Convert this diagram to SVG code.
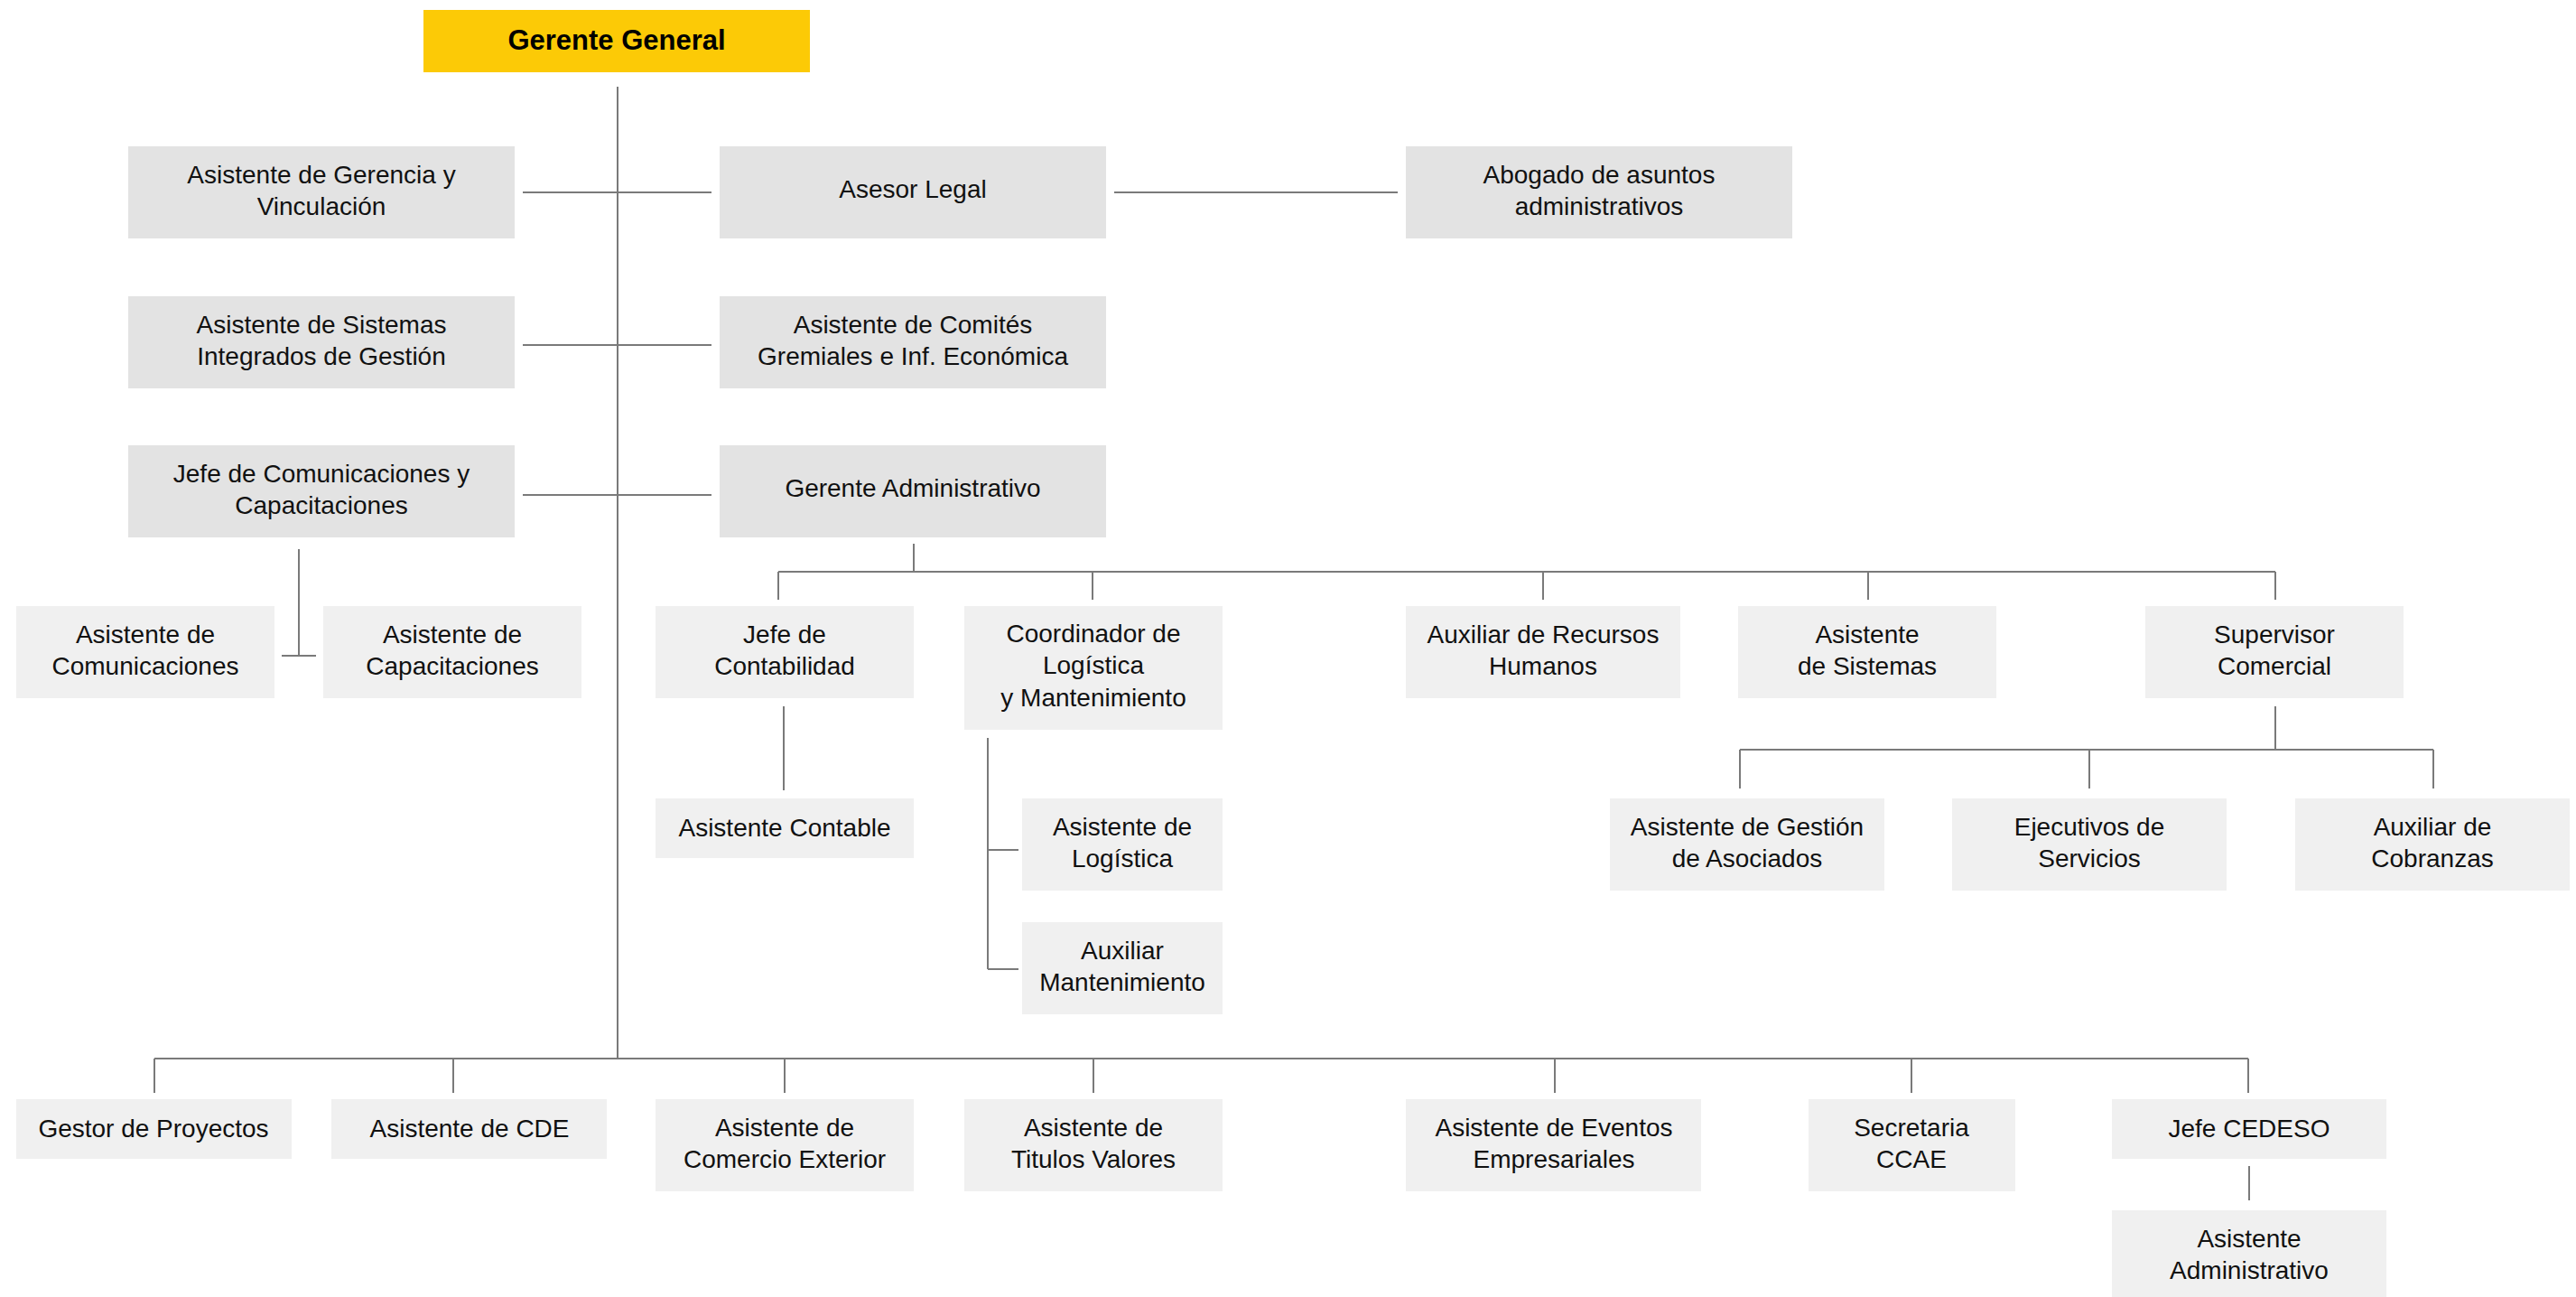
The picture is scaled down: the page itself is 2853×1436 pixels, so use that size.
<svg xmlns="http://www.w3.org/2000/svg" width="2853" height="1436" viewBox="0 0 2853 1436">
<style>
.d{fill:#e3e3e3}
.l{fill:#f0f0f0}
.t{font-family:"Liberation Sans",Arial,sans-serif;font-size:28px;fill:#111;text-anchor:middle}
.b{font-family:"Liberation Sans",Arial,sans-serif;font-size:31px;font-weight:bold;fill:#000;text-anchor:middle}
.c{fill:none;stroke:#7a7a7a;stroke-width:2}
</style>
<rect width="2853" height="1436" fill="#ffffff"/>
<g id="connectors" class="c">
<path d="M684 96V1172"/>
<path d="M579 213H788M1234 213H1548"/>
<path d="M579 382H788"/>
<path d="M579 548H788"/>
<path d="M331 608V726M312 726H350"/>
<path d="M1012 602V633M862 633H2520M862 633V664M1210 633V664M1709 633V664M2069 633V664M2520 633V664"/>
<path d="M868 782V875"/>
<path d="M1094 817V1073M1094 941H1128M1094 1073H1128"/>
<path d="M2520 782V830M1927 830H2695M1927 830V873M2314 830V873M2695 830V873"/>
<path d="M171 1172H2490M171 1172V1210M502 1172V1210M869 1172V1210M1211 1172V1210M1722 1172V1210M2117 1172V1210M2490 1172V1210"/>
<path d="M2491 1291V1329"/>
</g>
<g id="gerente-general"><rect x="469" y="11" width="428" height="69" fill="#fcca06"/><text class="b" x="683" y="55">Gerente General</text></g>
<g id="asistente-gerencia"><rect class="d" x="142" y="162" width="428" height="102"/><text class="t" x="356" y="203">Asistente de Gerencia y</text><text class="t" x="356" y="238">Vinculación</text></g>
<g id="asesor-legal"><rect class="d" x="797" y="162" width="428" height="102"/><text class="t" x="1011" y="219">Asesor Legal</text></g>
<g id="abogado"><rect class="d" x="1557" y="162" width="428" height="102"/><text class="t" x="1771" y="203">Abogado de asuntos</text><text class="t" x="1771" y="238">administrativos</text></g>
<g id="asistente-sig"><rect class="d" x="142" y="328" width="428" height="102"/><text class="t" x="356" y="369">Asistente de Sistemas</text><text class="t" x="356" y="404">Integrados de Gestión</text></g>
<g id="asistente-comites"><rect class="d" x="797" y="328" width="428" height="102"/><text class="t" x="1011" y="369">Asistente de Comités</text><text class="t" x="1011" y="404">Gremiales e Inf. Económica</text></g>
<g id="jefe-comunicaciones"><rect class="d" x="142" y="493" width="428" height="102"/><text class="t" x="356" y="534">Jefe de Comunicaciones y</text><text class="t" x="356" y="569">Capacitaciones</text></g>
<g id="gerente-administrativo"><rect class="d" x="797" y="493" width="428" height="102"/><text class="t" x="1011" y="550">Gerente Administrativo</text></g>
<g id="asistente-comunicaciones"><rect class="l" x="18" y="671" width="286" height="102"/><text class="t" x="161" y="712">Asistente de</text><text class="t" x="161" y="747">Comunicaciones</text></g>
<g id="asistente-capacitaciones"><rect class="l" x="358" y="671" width="286" height="102"/><text class="t" x="501" y="712">Asistente de</text><text class="t" x="501" y="747">Capacitaciones</text></g>
<g id="jefe-contabilidad"><rect class="l" x="726" y="671" width="286" height="102"/><text class="t" x="869" y="712">Jefe de</text><text class="t" x="869" y="747">Contabilidad</text></g>
<g id="coordinador-logistica"><rect class="l" x="1068" y="671" width="286" height="137"/><text class="t" x="1211" y="711">Coordinador de</text><text class="t" x="1211" y="746">Logística</text><text class="t" x="1211" y="782">y Mantenimiento</text></g>
<g id="auxiliar-rrhh"><rect class="l" x="1557" y="671" width="304" height="102"/><text class="t" x="1709" y="712">Auxiliar de Recursos</text><text class="t" x="1709" y="747">Humanos</text></g>
<g id="asistente-sistemas"><rect class="l" x="1925" y="671" width="286" height="102"/><text class="t" x="2068" y="712">Asistente</text><text class="t" x="2068" y="747">de Sistemas</text></g>
<g id="supervisor-comercial"><rect class="l" x="2376" y="671" width="286" height="102"/><text class="t" x="2519" y="712">Supervisor</text><text class="t" x="2519" y="747">Comercial</text></g>
<g id="asistente-contable"><rect class="l" x="726" y="884" width="286" height="66"/><text class="t" x="869" y="926">Asistente Contable</text></g>
<g id="asistente-logistica"><rect class="l" x="1132" y="884" width="222" height="102"/><text class="t" x="1243" y="925">Asistente de</text><text class="t" x="1243" y="960">Logística</text></g>
<g id="auxiliar-mantenimiento"><rect class="l" x="1132" y="1021" width="222" height="102"/><text class="t" x="1243" y="1062">Auxiliar</text><text class="t" x="1243" y="1097">Mantenimiento</text></g>
<g id="asistente-gestion-asociados"><rect class="l" x="1783" y="884" width="304" height="102"/><text class="t" x="1935" y="925">Asistente de Gestión</text><text class="t" x="1935" y="960">de Asociados</text></g>
<g id="ejecutivos-servicios"><rect class="l" x="2162" y="884" width="304" height="102"/><text class="t" x="2314" y="925">Ejecutivos de</text><text class="t" x="2314" y="960">Servicios</text></g>
<g id="auxiliar-cobranzas"><rect class="l" x="2542" y="884" width="304" height="102"/><text class="t" x="2694" y="925">Auxiliar de</text><text class="t" x="2694" y="960">Cobranzas</text></g>
<g id="gestor-proyectos"><rect class="l" x="18" y="1217" width="305" height="66"/><text class="t" x="170" y="1259">Gestor de Proyectos</text></g>
<g id="asistente-cde"><rect class="l" x="367" y="1217" width="305" height="66"/><text class="t" x="520" y="1259">Asistente de CDE</text></g>
<g id="asistente-comercio-exterior"><rect class="l" x="726" y="1217" width="286" height="102"/><text class="t" x="869" y="1258">Asistente de</text><text class="t" x="869" y="1293">Comercio Exterior</text></g>
<g id="asistente-titulos-valores"><rect class="l" x="1068" y="1217" width="286" height="102"/><text class="t" x="1211" y="1258">Asistente de</text><text class="t" x="1211" y="1293">Titulos Valores</text></g>
<g id="asistente-eventos"><rect class="l" x="1557" y="1217" width="327" height="102"/><text class="t" x="1721" y="1258">Asistente de Eventos</text><text class="t" x="1721" y="1293">Empresariales</text></g>
<g id="secretaria-ccae"><rect class="l" x="2003" y="1217" width="229" height="102"/><text class="t" x="2117" y="1258">Secretaria</text><text class="t" x="2117" y="1293">CCAE</text></g>
<g id="jefe-cedeso"><rect class="l" x="2339" y="1217" width="304" height="66"/><text class="t" x="2491" y="1259">Jefe CEDESO</text></g>
<g id="asistente-administrativo"><rect class="l" x="2339" y="1340" width="304" height="96"/><text class="t" x="2491" y="1381">Asistente</text><text class="t" x="2491" y="1416">Administrativo</text></g>
</svg>
